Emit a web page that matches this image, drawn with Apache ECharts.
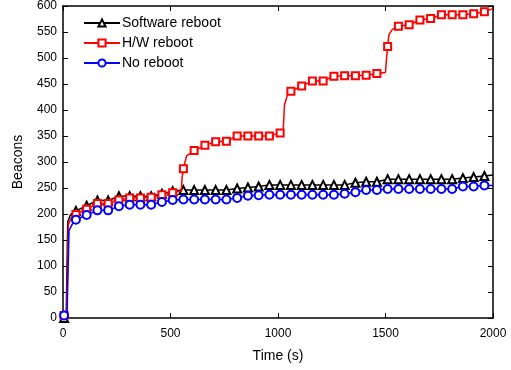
<!DOCTYPE html>
<html>
<head>
<meta charset="utf-8">
<script src="https://cdn.jsdelivr.net/npm/echarts@6/dist/echarts.min.js"></script>
<style>html,body{margin:0;padding:0;background:#fff}#c{width:511px;height:370px}</style>
</head>
<body>
<div id="c"></div>
<script>
// Marker times (s)
const markerTimes = [5, 60, 110, 160, 210, 260, 310, 360, 410, 460, 510, 560, 610, 660, 710, 760, 810, 860, 910, 960, 1010, 1060, 1110, 1160, 1210, 1260, 1310, 1360, 1410, 1460, 1510, 1560, 1610, 1660, 1710, 1760, 1810, 1860, 1910, 1960];
// Beacons at marker times
const softwareReboot = [0, 206, 216, 226, 226, 234, 234, 234, 234, 239, 244, 246, 246, 246, 246, 246, 249, 251, 253, 256, 256, 256, 256, 256, 256, 256, 256, 260, 262, 262, 267, 267, 267, 267, 267, 267, 267, 269, 271, 273];
const hwReboot = [5, 199, 209, 220, 220, 227, 231, 231, 232, 237, 241, 287, 322, 332, 339, 340, 350, 350, 350, 350, 356, 436, 446, 456, 456, 465, 466, 466, 467, 470, 522, 561, 564, 573, 576, 583, 583, 583, 585, 589];
const noReboot = [5, 189, 198, 207, 207, 215, 218, 218, 218, 223, 227, 228, 228, 228, 228, 228, 231, 235, 236, 237, 237, 237, 237, 237, 237, 237, 239, 242, 246, 246, 248, 248, 248, 248, 248, 248, 248, 253, 253, 255];
// Extra path points between markers (no marker drawn): [time, beacons]
const softwarePath = [[0, 0], [15, 5], [22, 185], [35, 199], [2000, 275]];
const hwPath = [[0, 5], [17, 10], [25, 180], [40, 194], [550, 244], [554, 270], [575, 312], [1024, 358], [1030, 410], [1045, 430], [1500, 472], [1504, 495], [1516, 545], [1532, 555], [2000, 595]];
const noPath = [[0, 5], [19, 10], [28, 168], [45, 182], [2000, 255]];

const xTicks = [0, 500, 1000, 1500, 2000];
const yTicks = [0, 50, 100, 150, 200, 250, 300, 350, 400, 450, 500, 550, 600];

function buildData(values, path) {
  const pts = markerTimes.map((t, i) => ({ value: [t, values[i]] }));
  path.forEach(p => pts.push({ value: p, symbol: 'none' }));
  pts.sort((a, b) => a.value[0] - b.value[0]);
  return pts;
}

const chart = echarts.init(document.getElementById('c'), null, { renderer: 'canvas' });
const font = 'Liberation Sans, Arial, sans-serif';
const axisCommon = {
  type: 'value',
  axisLine: { show: true, onZero: false, lineStyle: { color: '#000', width: 1.5 } },
  axisTick: { show: true, inside: true, length: 5, lineStyle: { color: '#000', width: 1 } },
  splitLine: { show: false }
};
chart.setOption({
  animation: false,
  backgroundColor: '#fff',
  grid: { left: 63, right: 18, top: 3, bottom: 52, containLabel: false },
  legend: {
    orient: 'vertical', left: 78, top: 11, itemGap: 6,
    itemWidth: 36, itemHeight: 9,
    textStyle: { fontFamily: font, fontSize: 14, color: '#000', padding: [0, 0, 0, -3] },
    data: ['Software reboot', 'H/W reboot', 'No reboot']
  },
  xAxis: [
    Object.assign({}, axisCommon, {
      min: xTicks[0], max: xTicks[xTicks.length - 1], interval: 500, position: 'bottom',
      name: 'Time (s)', nameLocation: 'middle', nameGap: 31,
      nameTextStyle: { fontFamily: font, fontSize: 14, color: '#000' },
      axisLabel: { fontFamily: font, fontSize: 12, color: '#000', margin: 10, formatter: v => String(v) }
    }),
    Object.assign({}, axisCommon, {
      min: xTicks[0], max: xTicks[xTicks.length - 1], interval: 500, position: 'top',
      axisLabel: { show: false }
    })
  ],
  yAxis: [
    Object.assign({}, axisCommon, {
      min: yTicks[0], max: yTicks[yTicks.length - 1], interval: 50, position: 'left',
      name: 'Beacons', nameLocation: 'middle', nameGap: 38, nameRotate: 90,
      nameTextStyle: { fontFamily: font, fontSize: 14, color: '#000' },
      axisLabel: { fontFamily: font, fontSize: 12, color: '#000', margin: 6, formatter: v => String(v) }
    }),
    Object.assign({}, axisCommon, {
      min: yTicks[0], max: yTicks[yTicks.length - 1], interval: 50, position: 'right',
      axisLabel: { show: false }
    })
  ],
  series: [
    {
      name: 'Software reboot', type: 'line', xAxisIndex: 0, yAxisIndex: 0,
      data: buildData(softwareReboot, softwarePath),
      symbol: 'emptyTriangle', symbolSize: 8, showAllSymbol: true,
      lineStyle: { color: '#000', width: 1.5 },
      itemStyle: { color: '#000', borderColor: '#000', borderWidth: 0.8 },
      z: 3
    },
    {
      name: 'H/W reboot', type: 'line', xAxisIndex: 0, yAxisIndex: 0,
      data: buildData(hwReboot, hwPath),
      symbol: 'emptyRect', symbolSize: 7, showAllSymbol: true,
      lineStyle: { color: '#ff0000', width: 1.5 },
      itemStyle: { color: '#ff0000', borderColor: '#ff0000', borderWidth: 0.8 },
      z: 4
    },
    {
      name: 'No reboot', type: 'line', xAxisIndex: 0, yAxisIndex: 0,
      data: buildData(noReboot, noPath),
      symbol: 'emptyCircle', symbolSize: 8, showAllSymbol: true,
      lineStyle: { color: '#0000ff', width: 1.5 },
      itemStyle: { color: '#0000ff', borderColor: '#0000ff', borderWidth: 0.8 },
      z: 5
    }
  ]
});
</script>
</body>
</html>
